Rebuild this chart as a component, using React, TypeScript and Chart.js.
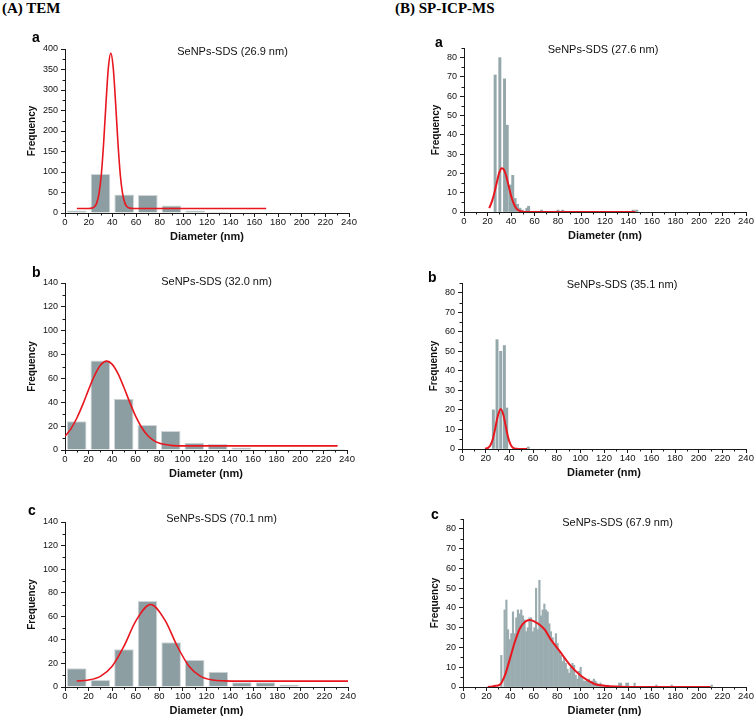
import React, { useEffect, useRef } from 'react';
import { Chart, registerables } from 'chart.js';

Chart.register(...registerables);

const SANS = '"Liberation Sans", Arial, Helvetica, sans-serif';
const SERIF = '"Liberation Serif", "Times New Roman", serif';

// ---------- axis ticks ----------
const diameterTicks = [0, 20, 40, 60, 80, 100, 120, 140, 160, 180, 200, 220, 240];
const temATicks = [0, 50, 100, 150, 200, 250, 300, 350, 400];
const temBCTicks = [0, 20, 40, 60, 80, 100, 120, 140];
const icpTicks = [0, 10, 20, 30, 40, 50, 60, 70, 80];

// ---------- (A) TEM histograms (20 nm bins) ----------
const temBinCenters = [10, 30, 50, 70, 90, 110, 130, 150, 170, 190, 210, 230];
const temACounts = [6, 95, 45, 44, 18, 6, 3, 1, 0, 0, 0, 0];
const temBCounts = [24, 75, 43, 21, 16, 6, 5, 2, 0, 0, 0, 1];
const temCCounts = [16, 6, 32, 73, 38, 23, 13, 4, 4, 2, 0, 0];

// TEM fitted curves
const temAFitX = [10, 20, 22.7, 24.7, 26.7, 28.7, 30.7, 32.7, 34.7, 36.7, 38.7, 40.7, 42.7, 44.7, 46.7, 48.7, 50.7, 52.7, 54.7, 58, 170];
const temAFitY = [11, 11, 11.9, 14.7, 23.5, 46.6, 94, 173, 271, 356, 390, 356, 271, 173, 94, 46.6, 23.5, 14.7, 11.9, 11, 11];
const temBFitX = [0, 5, 10, 15, 20, 25, 30, 35.5, 40, 45, 50, 55, 60, 65, 70, 75, 80, 90, 100, 232];
const temBFitY = [11.5, 17.7, 26.6, 37.8, 50.4, 62.2, 70.9, 74.5, 72, 64.2, 52.8, 40.3, 28.6, 19.3, 12.6, 8.3, 5.8, 3.9, 3.5, 3.5];
const temCFitX = [10, 20, 30, 40, 50, 60, 72.6, 85, 95, 105, 115, 125, 135, 150, 240];
const temCFitY = [5.1, 5.9, 9, 17.6, 34.6, 55.9, 70, 56.3, 35, 17.9, 9, 5.9, 5.2, 5, 5];

// ---------- (B) SP-ICP-MS histograms ----------
const icpADiam = [26.5, 30.5, 34.5, 36.8, 39.5, 41.5, 43.5, 45.5, 47.5, 49.5, 53.5, 55, 66, 80, 84, 144, 147];
const icpACounts = [71, 80, 69, 45, 14, 19, 7, 4, 2, 1, 2, 3, 1, 1, 1, 1, 1];
const icpAFitX = [21.5, 24, 26, 28, 30, 32, 34, 36, 38, 40, 42, 44, 46, 48, 52, 146];
const icpAFitY = [2, 5.9, 10.3, 15.6, 20.4, 22.7, 21.9, 18.5, 13.5, 8.5, 4.8, 2.3, 1, 0.4, 0, 0];

const icpBDiam = [26.5, 29.6, 32.7, 35.8, 37.8, 56];
const icpBCounts = [20, 56, 50, 53, 21, 1];
const icpBFitX = [19.5, 22, 24, 26, 28, 30, 32.7, 35, 37, 39, 41, 43, 46, 50, 55];
const icpBFitY = [0.1, 0.6, 1.9, 5, 10.3, 16.3, 20.5, 17.4, 11.5, 5.9, 2.4, 0.7, 0.1, 0, 0];

const icpCDiam = [32.5, 35.3, 36.8, 38.2, 39.6, 41, 42.4, 43.8, 45.2, 46.6, 48, 49.4, 50.8, 52.2, 53.6, 55, 56.4, 57.8, 59.2, 60.6, 62, 63.4, 64.8, 66.2, 67.6, 69, 70.4, 71.8, 73.2, 74.6, 76, 77.4, 78.8, 80.2, 81.6, 83, 84.4, 85.8, 87.2, 88.6, 90, 91.4, 92.8, 94.2, 95.6, 97, 98.4, 99.8, 101.2, 102.6, 104, 105.4, 106.8, 108.2, 109.6, 111, 112.4, 113.8, 115.2, 116.6, 118, 120, 122.8, 132.5, 134, 138.5, 140, 145.5, 164, 177, 211];
const icpCCounts = [16, 39, 44, 29, 24, 27, 38, 27, 35, 39, 37, 39, 36, 34, 28, 30, 35, 35, 28, 30, 50, 29, 54, 36, 39, 42, 39, 38, 32, 28, 25, 22, 27, 22, 18, 16, 13, 15, 12, 9, 7, 10, 12, 11, 6, 4, 8, 10, 5, 3, 3, 3, 4, 2, 3, 4, 3, 2, 1, 2, 1, 1, 1, 2, 2, 2, 2, 2, 1, 1, 1];
const icpCFitX = [21, 25, 28, 31.4, 35.6, 39.9, 44.1, 48.3, 52.6, 56.8, 61, 65.3, 69.5, 73.8, 82.3, 90.8, 99.2, 107.7, 112, 120, 130, 140, 150, 210];
const icpCFitY = [0, 0.3, 0.6, 1.2, 6, 14.5, 23, 29.7, 33, 33.9, 33, 31.4, 28.9, 24.6, 17.9, 11.1, 6.1, 2.7, 1.4, 0.6, 0.2, 0.05, 0, 0];

// ---------- panel labels ----------
const sectionTitles = ['(A) TEM', '(B) SP-ICP-MS'];
const panelLetters = ['a', 'b', 'c', 'a', 'b', 'c'];
const panelTitles = [
  'SeNPs-SDS (26.9 nm)',
  'SeNPs-SDS (32.0 nm)',
  'SeNPs-SDS (70.1 nm)',
  'SeNPs-SDS (27.6 nm)',
  'SeNPs-SDS (35.1 nm)',
  'SeNPs-SDS (67.9 nm)',
];

const RED = '#e8161e';
const AXIS = '#1a1a1a';

const YW = 48;
const PT = 14;
const PR = 10;
const XH = 32;
const Y_TITLE_SIZE = 10;

type Spec = {
  l: number; t: number; r: number; b: number;
  yMax: number; yTicks: number[]; yTitleOff: number;
  barX: number[]; barY: number[];
  barThickness?: number; barPct?: number;
  barColor: string; barBorder: string; barBorderWidth: number;
  fitX: number[]; fitY: number[]; lineWidth: number;
  letter: string; letterX: number; letterBase: number;
  title: string; titleCx: number; titleCy: number;
};

const pts = (xs: number[], ys: number[]) => xs.map((x, i) => ({ x, y: ys[i] }));

const specs: Spec[] = [
  { l: 65, t: 49, r: 349, b: 213, yMax: 400, yTicks: temATicks, yTitleOff: 33,
    barX: temBinCenters, barY: temACounts, barPct: 0.83, barColor: '#8c9ea1', barBorder: '#cfd5d8', barBorderWidth: 1,
    fitX: temAFitX, fitY: temAFitY, lineWidth: 1.6,
    letter: panelLetters[0], letterX: 32, letterBase: 42, title: panelTitles[0], titleCx: 232.5, titleCy: 51 },
  { l: 65, t: 283, r: 347, b: 450, yMax: 140, yTicks: temBCTicks, yTitleOff: 33,
    barX: temBinCenters, barY: temBCounts, barPct: 0.83, barColor: '#8c9ea1', barBorder: '#cfd5d8', barBorderWidth: 1,
    fitX: temBFitX, fitY: temBFitY, lineWidth: 1.6,
    letter: panelLetters[1], letterX: 32, letterBase: 277, title: panelTitles[1], titleCx: 216.5, titleCy: 281 },
  { l: 65, t: 522, r: 348, b: 687, yMax: 140, yTicks: temBCTicks, yTitleOff: 33,
    barX: temBinCenters, barY: temCCounts, barPct: 0.83, barColor: '#8c9ea1', barBorder: '#cfd5d8', barBorderWidth: 1,
    fitX: temCFitX, fitY: temCFitY, lineWidth: 1.6,
    letter: panelLetters[2], letterX: 28, letterBase: 515, title: panelTitles[2], titleCx: 221.5, titleCy: 518 },
  { l: 464, t: 48, r: 746, b: 212, yMax: 85, yTicks: icpTicks, yTitleOff: 28,
    barX: icpADiam, barY: icpACounts, barThickness: 2.3, barColor: '#94a7aa', barBorder: '#94a7aa', barBorderWidth: 0,
    fitX: icpAFitX, fitY: icpAFitY, lineWidth: 2,
    letter: panelLetters[3], letterX: 435, letterBase: 47, title: panelTitles[3], titleCx: 603, titleCy: 49 },
  { l: 462, t: 283, r: 746, b: 449, yMax: 85, yTicks: icpTicks, yTitleOff: 28,
    barX: icpBDiam, barY: icpBCounts, barThickness: 2.3, barColor: '#94a7aa', barBorder: '#94a7aa', barBorderWidth: 0,
    fitX: icpBFitX, fitY: icpBFitY, lineWidth: 2,
    letter: panelLetters[4], letterX: 428, letterBase: 282, title: panelTitles[4], titleCx: 622, titleCy: 284 },
  { l: 463, t: 519, r: 746, b: 687, yMax: 85, yTicks: icpTicks, yTitleOff: 28,
    barX: icpCDiam, barY: icpCCounts, barThickness: 1.5, barColor: '#9aacaf', barBorder: '#9aacaf', barBorderWidth: 0,
    fitX: icpCFitX, fitY: icpCFitY, lineWidth: 2,
    letter: panelLetters[5], letterX: 431, letterBase: 519, title: panelTitles[5], titleCx: 617.5, titleCy: 522 },
];

const minorTicks = {
  id: 'minorTicks',
  afterDraw(chart: any) {
    const { ctx } = chart;
    const xs = chart.scales.x;
    const ys = chart.scales.y;
    const mids = (ticks: any[], max: number) => {
      const v: number[] = [];
      for (let i = 0; i < ticks.length - 1; i++) v.push((ticks[i].value + ticks[i + 1].value) / 2);
      if (ticks.length > 1) {
        const step = ticks[1].value - ticks[0].value;
        const extra = ticks[ticks.length - 1].value + step / 2;
        if (extra <= max + 1e-9) v.push(extra);
      }
      return v;
    };
    ctx.save();
    ctx.strokeStyle = AXIS;
    ctx.lineWidth = 1;
    ctx.beginPath();
    for (const v of mids(xs.ticks, xs.max)) {
      const p = Math.round(xs.getPixelForValue(v)) + 0.5;
      ctx.moveTo(p, ys.bottom);
      ctx.lineTo(p, ys.bottom + 2.5);
    }
    for (const v of mids(ys.ticks, ys.max)) {
      const p = Math.round(ys.getPixelForValue(v)) + 0.5;
      ctx.moveTo(xs.left - 2.5, p);
      ctx.lineTo(xs.left, p);
    }
    ctx.stroke();
    ctx.restore();
  },
};

function Panel({ s }: { s: Spec }) {
  const ref = useRef<HTMLCanvasElement>(null);
  const w = s.r - s.l + YW + PR;
  const h = s.b - s.t + PT + XH;
  useEffect(() => {
    const canvas = ref.current;
    if (!canvas) return;
    const yLh = Y_TITLE_SIZE * 1.2;
    const chart = new Chart(canvas, {
      type: 'bar',
      data: {
        datasets: [
          {
            type: 'line',
            data: pts(s.fitX, s.fitY),
            borderColor: RED,
            borderWidth: s.lineWidth,
            pointRadius: 0,
            fill: false,
            cubicInterpolationMode: 'monotone',
            order: 0,
          } as any,
          {
            type: 'bar',
            data: pts(s.barX, s.barY),
            backgroundColor: s.barColor,
            borderColor: s.barBorder,
            borderWidth: s.barBorderWidth,
            barPercentage: s.barPct ?? 1,
            categoryPercentage: 1,
            barThickness: s.barThickness,
            order: 1,
          } as any,
        ],
      },
      options: {
        responsive: false,
        animation: false,
        layout: { padding: { left: 0, top: PT, right: PR, bottom: 0 } },
        plugins: {
          legend: { display: false },
          tooltip: { enabled: false },
          title: { display: false },
        },
        scales: {
          x: {
            type: 'linear',
            min: 0,
            max: 240,
            offset: false,
            afterBuildTicks: (sc: any) => { sc.ticks = diameterTicks.map((v) => ({ value: v })); },
            afterFit: (sc: any) => { sc.height = XH; },
            ticks: { autoSkip: false, maxRotation: 0, padding: 0, color: '#111', font: { family: SANS, size: 9.5 } },
            grid: { display: true, drawOnChartArea: false, drawTicks: true, tickLength: 4, tickColor: AXIS, offset: false },
            border: { display: true, color: AXIS, width: 1 },
            title: {
              display: true,
              text: 'Diameter (nm)',
              color: '#111',
              font: { family: SANS, size: 11, weight: 'bold' },
              padding: { top: 0, bottom: 1.9 },
            },
          },
          y: {
            type: 'linear',
            min: 0,
            max: s.yMax,
            afterBuildTicks: (sc: any) => { sc.ticks = s.yTicks.map((v) => ({ value: v })); },
            afterFit: (sc: any) => { sc.width = YW; },
            ticks: { autoSkip: false, padding: 3, color: '#111', font: { family: SANS, size: 9 } },
            grid: { display: true, drawOnChartArea: false, drawTicks: true, tickLength: 4, tickColor: AXIS },
            border: { display: true, color: AXIS, width: 1 },
            title: {
              display: true,
              text: 'Frequency',
              color: '#111',
              font: { family: SANS, size: Y_TITLE_SIZE, weight: 'bold' },
              padding: { top: YW - s.yTitleOff - yLh / 2, bottom: 0 },
            },
          },
        },
      } as any,
      plugins: [minorTicks as any],
    });
    return () => chart.destroy();
  }, [s]);
  return (
    <canvas
      ref={ref}
      width={w}
      height={h}
      style={{ position: 'absolute', left: s.l - YW, top: s.t - PT, width: w, height: h }}
    />
  );
}

export default function App() {
  const letterSize = 14;
  const letterBaseOff = letterSize * 0.846;
  return (
    <div style={{ position: 'absolute', left: 0, top: 0, width: 756, height: 718, overflow: 'hidden', background: '#fff' }}>
      {specs.map((s, i) => <Panel key={i} s={s} />)}
      <div style={{ position: 'absolute', left: 2, top: 0.5, font: `bold 15px ${SERIF}`, lineHeight: 1, whiteSpace: 'nowrap', color: '#000' }}>{sectionTitles[0]}</div>
      <div style={{ position: 'absolute', left: 395, top: 0.5, font: `bold 15px ${SERIF}`, lineHeight: 1, whiteSpace: 'nowrap', color: '#000' }}>{sectionTitles[1]}</div>
      {specs.map((s, i) => (
        <div key={'l' + i} style={{ position: 'absolute', left: s.letterX, top: s.letterBase - letterBaseOff, font: `bold ${letterSize}px ${SANS}`, lineHeight: 1, whiteSpace: 'nowrap', color: '#000' }}>{s.letter}</div>
      ))}
      {specs.map((s, i) => (
        <div key={'t' + i} style={{ position: 'absolute', left: s.titleCx, top: s.titleCy, transform: 'translate(-50%, -50%)', font: `11px ${SANS}`, lineHeight: 1, whiteSpace: 'nowrap', color: '#111' }}>{s.title}</div>
      ))}
    </div>
  );
}
